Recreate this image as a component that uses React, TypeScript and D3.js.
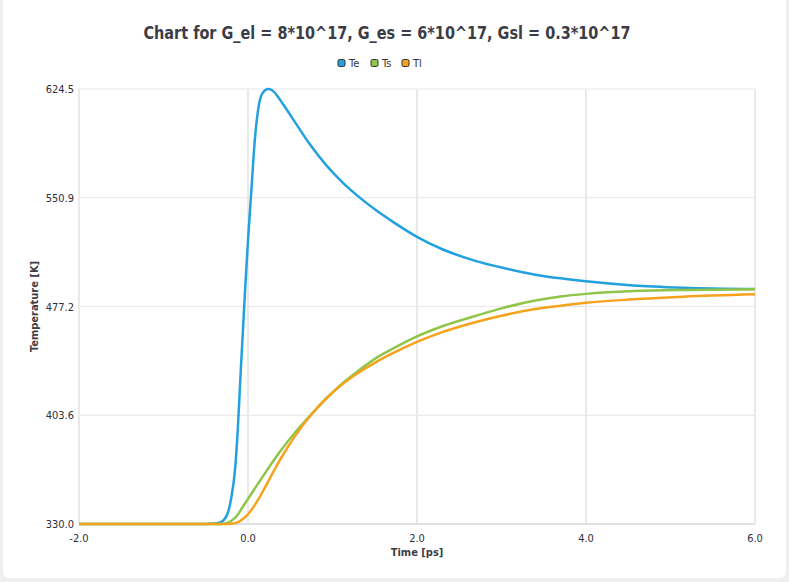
import React from "react";
import * as d3 from "d3";

const title = "Chart for G_el = 8*10^17, G_es = 6*10^17, Gsl = 0.3*10^17";
const seriesNames = ["Te", "Ts", "Tl"];
const seriesColors = ["#23a0de", "#8fc549", "#f5a21c"];

const time = [-2, -1, -0.5, -0.4, -0.33, -0.25, -0.2, -0.15, -0.12, -0.09, -0.06, -0.03, 0, 0.04, 0.08, 0.12, 0.17, 0.24, 0.28, 0.32, 0.36, 0.42, 0.55, 0.73, 0.93, 1.13, 1.33, 1.52, 1.72, 2.0, 2.3, 2.7, 3.0, 3.4, 3.7, 4.0, 4.56, 5.15, 6.0];

const te = [330, 330, 330, 330.3, 331, 336, 347, 369, 395, 429, 461, 493, 522, 556, 589.5, 610.5, 621.5, 624.5, 623.8, 621.8, 618.8, 613.8, 602.6, 587.2, 572.6, 560.6, 550.6, 542.2, 534.4, 524.4, 516, 508, 503.6, 498.8, 496.3, 494.3, 491.5, 490, 489.1];

const ts = [330, 330, 330, 330, 330, 330.5, 332, 334.5, 336.5, 339, 341.8, 344.4, 347, 350.5, 354, 357.4, 361.7, 367.7, 371.1, 374.4, 377.6, 382.2, 391.4, 403, 415, 425.8, 434.8, 442.5, 448.9, 457, 463.9, 471, 476, 481.3, 484, 485.8, 487.7, 488.5, 488.9];

const tl = [330, 330, 330, 330, 330, 330, 330.2, 330.6, 331.2, 332.2, 333.5, 334.8, 336.6, 339.5, 342.8, 346.5, 351.5, 358.9, 363.2, 367.4, 371.5, 377.4, 389, 402.8, 415.3, 425.2, 433.2, 439.8, 445.8, 453.3, 459.9, 466.8, 471, 475.5, 477.8, 479.8, 482.1, 483.9, 485.5];

const xTicks = [-2, 0, 2, 4, 6];
const yTicks = [330.0, 403.6, 477.2, 550.9, 624.5];
const xLabel = "Time [ps]";
const yLabel = "Temperature [K]";

const W = 789;
const H = 582;
const FONT = "'DejaVu Sans Condensed', 'DejaVu Sans', sans-serif";

export default function App() {
  const left = 79, right = 755, top = 89, bottom = 524;
  const x = d3.scaleLinear().domain([-2, 6]).range([left, right]);
  const y = d3.scaleLinear().domain([330, 624.5]).range([bottom, top]);
  const values = [te, ts, tl];
  const line = d3
    .line<number>()
    .x((_, i) => x(time[i]))
    .y((d) => y(d))
    .curve(d3.curveMonotoneX);

  const legendX = [338, 371, 402];

  return (
    <svg width={W} height={H} style={{ position: "absolute", left: 0, top: 0 }} fontFamily={FONT}>
      <rect x={0} y={0} width={W} height={H} fill="#efefef" />
      <rect x={3} y={-8} width={783} height={586} rx={6} fill="#ffffff" />
      <text x={387} y={39} textAnchor="middle" fontSize={17} fontWeight="bold" fill="#3c3c46" textLength={487} lengthAdjust="spacingAndGlyphs">
        {title}
      </text>
      {seriesNames.map((n, i) => (
        <g key={n}>
          <rect x={legendX[i]} y={59.5} width={7} height={7} rx={1.5} fill={seriesColors[i]} stroke="#333" strokeWidth={1} />
          <text x={legendX[i] + 11} y={67} fontSize={11} fill="#333">
            {n}
          </text>
        </g>
      ))}
      {yTicks.map((t) => (
        <line key={"h" + t} x1={left} x2={right} y1={y(t)} y2={y(t)} stroke="#e6e6e6" strokeWidth={1} />
      ))}
      {xTicks.map((t) => (
        <line key={"v" + t} x1={x(t)} x2={x(t)} y1={top} y2={bottom} stroke="#e9e9e9" strokeWidth={2} />
      ))}
      <line x1={left} x2={right} y1={bottom} y2={bottom} stroke="#e0e0e0" strokeWidth={2} />
      {yTicks.map((t) => (
        <text key={"yl" + t} x={74} y={y(t) + 4} textAnchor="end" fontSize={11} fill="#2e2e3a">
          {t.toFixed(1)}
        </text>
      ))}
      {xTicks.map((t) => (
        <text key={"xl" + t} x={x(t)} y={542} textAnchor="middle" fontSize={11} fill="#2e2e3a">
          {t.toFixed(1)}
        </text>
      ))}
      <text x={(left + right) / 2} y={556} textAnchor="middle" fontSize={11} fontWeight="bold" fill="#3c3c46">
        {xLabel}
      </text>
      <text
        transform={`translate(38, ${(top + bottom) / 2}) rotate(-90)`}
        textAnchor="middle"
        fontSize={11}
        fontWeight="bold"
        fill="#3c3c46"
      >
        {yLabel}
      </text>
      {values.map((v, i) => (
        <path key={seriesNames[i]} d={line(v) || ""} fill="none" stroke={seriesColors[i]} strokeWidth={2.5} strokeLinejoin="round" />
      ))}
    </svg>
  );
}
